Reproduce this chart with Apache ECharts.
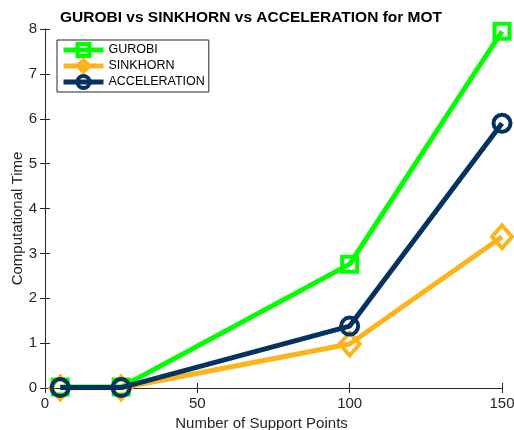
<!DOCTYPE html>
<html><head><meta charset="utf-8">
<script src="https://cdn.jsdelivr.net/npm/echarts@6/dist/echarts.min.js"></script>
<style>html,body{margin:0;padding:0;background:#fff}#c{width:514px;height:430px}</style>
</head><body><div id="c"></div>
<script>
const xValues = [5, 25, 100, 150];
const gurobi = [0.02, 0.02, 2.76, 7.95];
const sinkhorn = [0.0, 0.0, 0.98, 3.37];
const acceleration = [0.01, 0.01, 1.38, 5.9];
const seriesNames = ['GUROBI', 'SINKHORN', 'ACCELERATION'];
const colors = ['#00FF00', '#FDB31A', '#05325F'];
const symbols = ['rect', 'diamond', 'circle'];
const datasets = [gurobi, sinkhorn, acceleration];
const font = 'Liberation Sans, Arial, sans-serif';

const chart = echarts.init(document.getElementById('c'), null, {renderer: 'canvas'});
const axisCommon = {
  axisLine: {show: true, lineStyle: {color: '#262626', width: 1}},
  axisTick: {show: true, inside: true, length: 5, lineStyle: {color: '#262626'}},
  splitLine: {show: false},
  axisLabel: {color: '#262626', fontSize: 15, fontFamily: font}
};
chart.setOption({
  backgroundColor: '#fff',
  animation: false,
  title: {
    text: 'GUROBI vs SINKHORN vs ACCELERATION for MOT',
    left: 246, top: 5, textAlign: 'center',
    textStyle: {fontSize: 15.5, fontWeight: 'bold', color: '#000', fontFamily: font}
  },
  grid: {left: 45, right: 12, top: 29, bottom: 42, containLabel: false, outerBoundsMode: 'none'},
  legend: {
    orient: 'vertical', left: 57, top: 40,
    data: seriesNames,
    itemWidth: 40, itemHeight: 15, itemGap: 0,
    padding: [2, 4, 2, 4],
    borderColor: '#262626', borderWidth: 1, backgroundColor: '#fff',
    lineStyle: {width: 5},
    itemStyle: {borderWidth: 4},
    textStyle: {fontSize: 12.5, color: '#000', fontFamily: font}
  },
  xAxis: [
    Object.assign({}, axisCommon, {type: 'value', min: 0, max: 150, interval: 50,
      name: 'Number of Support Points', nameLocation: 'middle', nameGap: 28, nameMoveOverlap: false,
      nameTextStyle: {fontSize: 15, color: '#262626', fontFamily: font, padding: [0, 24, 0, 0]},
      axisLabel: {color: '#262626', fontSize: 15, fontFamily: font, margin: 8}}),
    Object.assign({}, axisCommon, {type: 'value', position: 'top', min: 0, max: 150, interval: 50,
      axisLabel: {show: false}})
  ],
  yAxis: [
    Object.assign({}, axisCommon, {type: 'value', min: 0, max: 8, interval: 1,
      name: 'Computational Time', nameLocation: 'middle', nameGap: 20, nameMoveOverlap: false,
      nameTextStyle: {fontSize: 15, color: '#262626', fontFamily: font, padding: [0, 20, 0, 0]}}),
    Object.assign({}, axisCommon, {type: 'value', position: 'right', min: 0, max: 8, interval: 1,
      axisLabel: {show: false}})
  ],
  series: seriesNames.map((name, i) => ({
    name: name,
    type: 'line',
    data: xValues.map((x, j) => [x, datasets[i][j]]),
    symbol: symbols[i],
    symbolSize: i === 0 ? 15 : (i === 1 ? [20, 23] : 17),
    showAllSymbol: true,
    lineStyle: {color: colors[i], width: 5},
    itemStyle: {color: 'rgba(255,255,255,0)', borderColor: colors[i], borderWidth: 4},
    z: 2 + i
  }))
});
</script></body></html>
